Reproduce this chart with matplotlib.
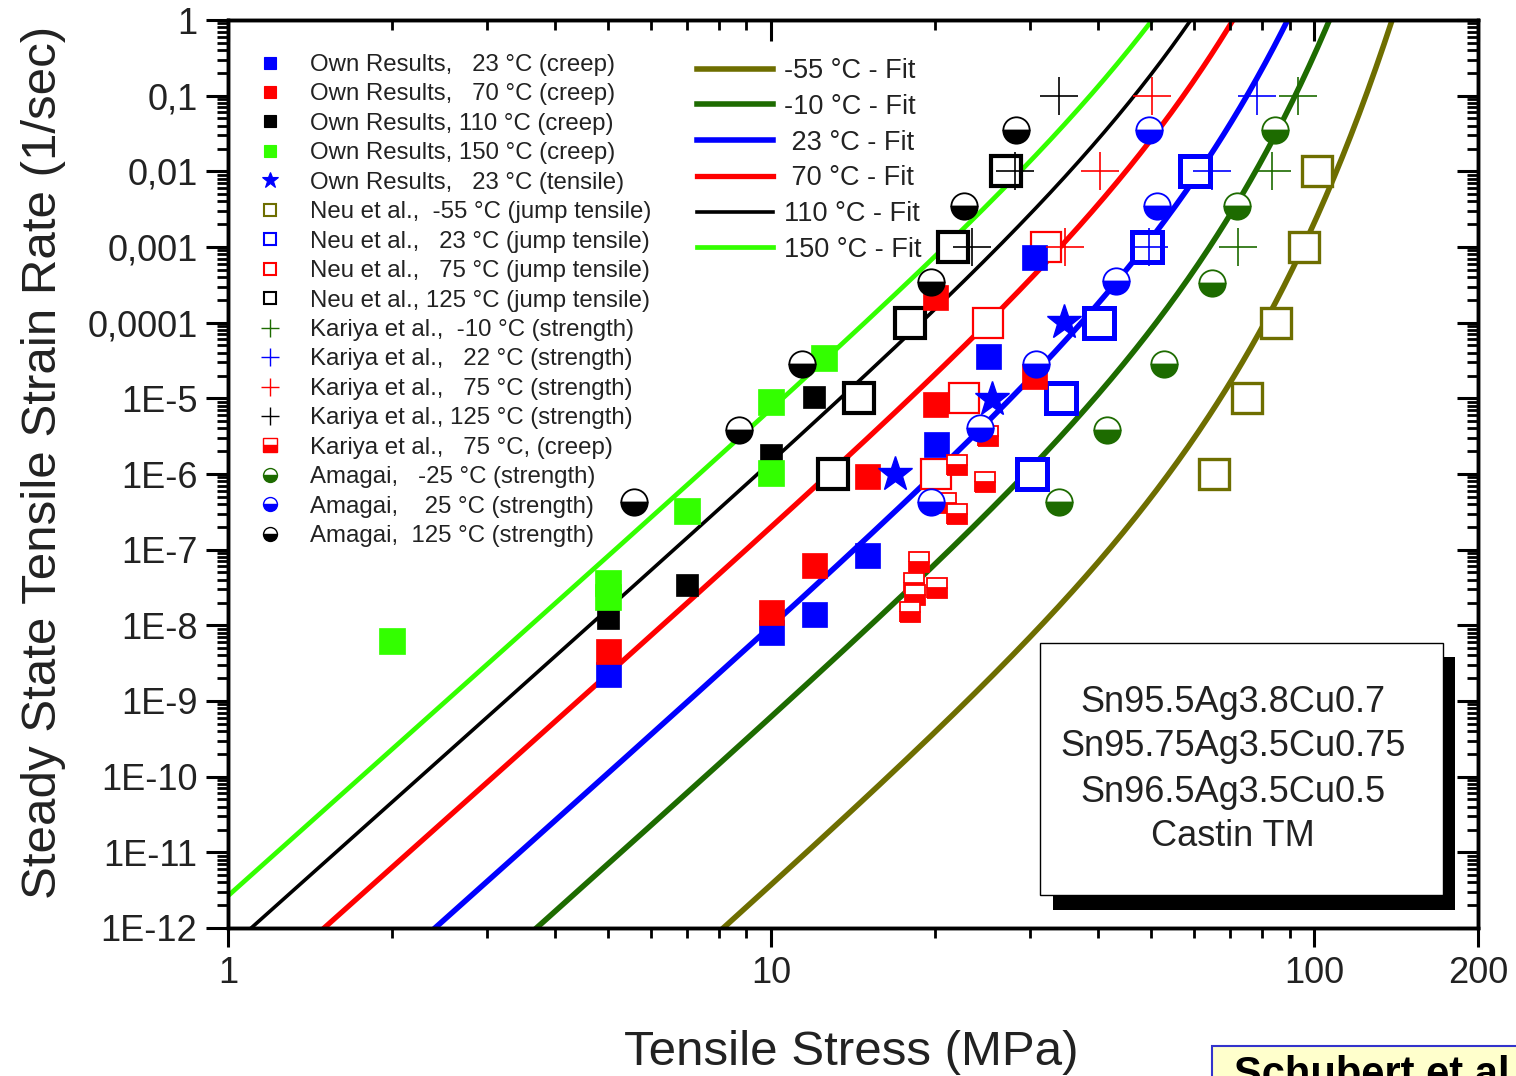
import numpy as np
import matplotlib
matplotlib.use("Agg")
import matplotlib.pyplot as plt
from matplotlib.lines import Line2D
from matplotlib.patches import Rectangle
from matplotlib.ticker import LogLocator, NullFormatter

plt.rcParams['font.family'] = ['Liberation Sans', 'DejaVu Sans']

# ---------------------------------------------------------------- data
# Own results (creep), stress in MPa, strain rate in 1/s
own23_s = [5, 10, 12, 15, 20.1, 25.1, 30.4]
own23_r = [2.3e-9, 8.2e-9, 1.4e-8, 8.5e-8, 2.5e-6, 3.6e-5, 7.4e-4]
own70_s = [5, 10, 12, 15, 20, 20, 30.4]
own70_r = [4.6e-9, 1.5e-8, 6.3e-8, 9.4e-7, 8.5e-6, 2.2e-4, 2.0e-5]
own110_s = [5, 7, 10, 12]
own110_r = [1.26e-8, 3.4e-8, 1.8e-6, 1.05e-5]
own150_s = [2, 5, 5, 7, 10, 10, 12.5]
own150_r = [6.2e-9, 2.4e-8, 3.6e-8, 3.2e-7, 1.03e-6, 9.0e-6, 3.4e-5]
# Own results (tensile)
own23t_s = [16.9, 25.5, 34.6]
own23t_r = [1.0e-6, 9.8e-6, 1.02e-4]

# Neu et al. (jump tensile)
neu_m55_s = [65.4, 75.2, 85.1, 95.5, 100.9]
neu_m55_r = [1e-6, 1e-5, 1e-4, 1e-3, 1e-2]
neu_23_s = [30.2, 34.1, 40.1, 49.2, 60.3]
neu_23_r = [1e-6, 1e-5, 1e-4, 1e-3, 1e-2]
neu_75_s = [20.1, 22.6, 25.1, 32.0]
neu_75_r = [1e-6, 1e-5, 1e-4, 1e-3]
neu_125_s = [13.0, 14.5, 18.0, 21.6, 27.1]
neu_125_r = [1e-6, 1e-5, 1e-4, 1e-3, 1e-2]

# Kariya et al. (strength)
kar_m10_s = [72.4, 83.6, 93.4]
kar_m10_r = [1e-3, 1e-2, 1e-1]
kar_22_s = [49.5, 64.9, 78.5]
kar_22_r = [1e-3, 1e-2, 1e-1]
kar_75_s = [34.7, 40.3, 50.2]
kar_75_r = [1e-3, 1e-2, 1e-1]
kar_125_s = [23.4, 28.1, 33.8]
kar_125_r = [1e-3, 1e-2, 1e-1]
# Kariya et al. (creep, 75 C)
kar75c_s = [25.1, 22.0, 24.7, 21.0, 22.0, 18.7, 18.3, 20.2, 18.4, 18.0]
kar75c_r = [3.2e-6, 1.3e-6, 7.9e-7, 4.2e-7, 3.0e-7, 6.9e-8, 3.6e-8, 3.1e-8, 2.5e-8, 1.5e-8]

# Amagai (strength)
ama_m25_s = [84.7, 72.1, 64.9, 52.9, 41.5, 33.8]
ama_m25_r = [3.5e-2, 3.5e-3, 3.3e-4, 2.8e-5, 3.8e-6, 4.3e-7]
ama_25_s = [49.6, 51.3, 43.1, 30.7, 24.2, 19.7]
ama_25_r = [3.5e-2, 3.5e-3, 3.5e-4, 2.8e-5, 4.0e-6, 4.3e-7]
ama_125_s = [28.2, 22.6, 19.7, 11.4, 8.73, 5.59]
ama_125_r = [3.5e-2, 3.5e-3, 3.4e-4, 2.8e-5, 3.8e-6, 4.3e-7]

# Garofalo (sinh) creep fit parameters
A_CREEP = 277984.0     # 1/s
ALPHA = 0.02447        # 1/MPa
N_EXP = 6.41
Q_ACT = 54200.0        # J/mol
R_GAS = 8.314          # J/(mol K)
fit_temps = [-55, -10, 23, 70, 110, 150]
fit_labels = ["-55 °C - Fit", "-10 °C - Fit", " 23 °C - Fit", " 70 °C - Fit",
              "110 °C - Fit", "150 °C - Fit"]

y_ticks = [1, 1e-1, 1e-2, 1e-3, 1e-4, 1e-5, 1e-6, 1e-7, 1e-8, 1e-9, 1e-10, 1e-11, 1e-12]
y_ticklabels = ["1", "0,1", "0,01", "0,001", "0,0001", "1E-5", "1E-6", "1E-7",
                "1E-8", "1E-9", "1E-10", "1E-11", "1E-12"]
x_ticks = [1, 10, 100, 200]
x_ticklabels = ["1", "10", "100", "200"]

alloy_lines = ["Sn95.5Ag3.8Cu0.7", "Sn95.75Ag3.5Cu0.75", "Sn96.5Ag3.5Cu0.5", "Castin TM"]

# ---------------------------------------------------------------- colours
OLIVE = '#6e6e00'
DKGREEN = '#1d6b00'
BLUE = '#0000ff'
RED = '#ff0000'
BLACK = '#000000'
LIME = '#33ff00'
fit_colors = [OLIVE, DKGREEN, BLUE, RED, BLACK, LIME]
fit_widths = [4.0, 4.0, 4.0, 3.8, 2.6, 3.4]
TXT = '#222222'

W, H = 1516, 1076
fig = plt.figure(figsize=(W / 100, H / 100), dpi=100)
ax = fig.add_axes([228 / W, 1 - 928 / H, 1250 / W, 908 / H])
ax.set_xscale('log')
ax.set_yscale('log')

# fit curves
sigma = np.logspace(0, np.log10(200), 600)
for t, c, lw in zip(fit_temps, fit_colors, fit_widths):
    rate = A_CREEP * np.sinh(ALPHA * sigma) ** N_EXP * np.exp(-Q_ACT / (R_GAS * (t + 273.15)))
    ax.plot(sigma, rate, color=c, lw=lw, zorder=2, solid_capstyle='butt')


def filled_sq(s, r, c, ms):
    ax.plot(s, r, ls='none', marker='s', ms=ms, mfc=c, mec=c, mew=0.5, zorder=4)


def open_sq(s, r, c, ms, mew):
    ax.plot(s, r, ls='none', marker='s', ms=ms, mfc='white', mec=c, mew=mew, zorder=3)


def plus(s, r, c):
    ax.plot(s, r, ls='none', marker='+', ms=27, mec=c, mew=1.2, zorder=5)


def half(s, r, c, marker, ms):
    ax.plot(s, r, ls='none', marker=marker, ms=ms, fillstyle='bottom',
            mfc=c, mfcalt='white', mec=c, mew=1.3, zorder=4)


open_sq(neu_m55_s, neu_m55_r, OLIVE, 22, 2.4)
open_sq(neu_23_s, neu_23_r, BLUE, 22, 3.6)
open_sq(neu_75_s, neu_75_r, RED, 22, 1.6)
open_sq(neu_125_s, neu_125_r, BLACK, 22, 3.0)

filled_sq(own23_s, own23_r, BLUE, 18)
filled_sq(own70_s, own70_r, RED, 18)
filled_sq(own110_s, own110_r, BLACK, 16)
filled_sq(own150_s, own150_r, LIME, 19)
ax.plot(own23t_s, own23t_r, ls='none', marker='*', ms=26, mfc=BLUE, mec=BLUE, zorder=4)

half(kar75c_s, kar75c_r, RED, 's', 15)
half(ama_m25_s, ama_m25_r, DKGREEN, 'o', 19)
half(ama_25_s, ama_25_r, BLUE, 'o', 19)
half(ama_125_s, ama_125_r, BLACK, 'o', 19)

plus(kar_m10_s, kar_m10_r, DKGREEN)
plus(kar_22_s, kar_22_r, BLUE)
plus(kar_75_s, kar_75_r, RED)
plus(kar_125_s, kar_125_r, BLACK)

# ---------------------------------------------------------------- axes
ax.set_xlim(1, 200)
ax.set_ylim(1e-12, 1)
for sp in ax.spines.values():
    sp.set_linewidth(2.4)

minor_sub = np.arange(2, 10)
ax.set_xticks(x_ticks)
ax.set_xticklabels(x_ticklabels)
ax.xaxis.set_minor_locator(LogLocator(base=10, subs=minor_sub, numticks=100))
ax.xaxis.set_minor_formatter(NullFormatter())
ax.set_yticks(y_ticks)
ax.set_yticklabels(y_ticklabels)
ax.yaxis.set_minor_locator(LogLocator(base=10, subs=minor_sub, numticks=100))
ax.yaxis.set_minor_formatter(NullFormatter())

ax.tick_params(axis='x', which='major', direction='out', length=14, width=2.2,
               labelsize=26, pad=6, labelcolor=TXT)
ax.tick_params(axis='x', which='minor', direction='out', length=7, width=2.0)
ax.tick_params(axis='y', which='major', direction='out', length=16, width=2.2,
               labelsize=26, pad=6, labelcolor=TXT)
ax.tick_params(axis='y', which='minor', direction='out', length=8, width=2.0)

# inward ticks on the top and right frame
axt = ax.twiny()
axt.set_xscale('log')
axt.set_xlim(ax.get_xlim())
axt.set_xticks(x_ticks)
axt.xaxis.set_minor_locator(LogLocator(base=10, subs=minor_sub, numticks=100))
axt.tick_params(axis='x', which='major', direction='in', length=15, width=2.2, labeltop=False)
axt.tick_params(axis='x', which='minor', direction='in', length=7, width=2.0)
axr = ax.twinx()
axr.set_yscale('log')
axr.set_ylim(ax.get_ylim())
axr.set_yticks(y_ticks)
axr.yaxis.set_minor_locator(LogLocator(base=10, subs=minor_sub, numticks=100))
axr.tick_params(axis='y', which='major', direction='in', length=15, width=2.2, labelright=False)
axr.tick_params(axis='y', which='minor', direction='in', length=8, width=2.0)
for a in (axt, axr):
    for sp in a.spines.values():
        sp.set_linewidth(2.4)

ax.set_xlabel("Tensile Stress (MPa)", fontsize=35.5, color=TXT)
ax.xaxis.set_label_coords(0.499, -0.112)
ax.set_ylabel("Steady State Tensile Strain Rate (1/sec)", fontsize=35.5, color=TXT)
ax.yaxis.set_label_coords(-0.130, 0.513)

# ---------------------------------------------------------------- legends
def mk(marker, c, ms, fill='full', mfc=None, mew=0.8):
    return Line2D([], [], ls='none', marker=marker, ms=ms, mec=c,
                  mfc=c if mfc is None else mfc, mew=mew, fillstyle=fill,
                  markerfacecoloralt='white')


leg_handles = [
    mk('s', BLUE, 9), mk('s', RED, 9), mk('s', BLACK, 9), mk('s', LIME, 9),
    mk('*', BLUE, 12),
    mk('s', OLIVE, 8, mfc='white', mew=1.5), mk('s', BLUE, 8, mfc='white', mew=1.5),
    mk('s', RED, 8, mfc='white', mew=1.5), mk('s', BLACK, 8, mfc='white', mew=1.5),
    mk('+', DKGREEN, 13, mew=1.0), mk('+', BLUE, 13, mew=1.0),
    mk('+', RED, 13, mew=1.0), mk('+', BLACK, 13, mew=1.0),
    mk('s', RED, 10, fill='bottom', mew=1.0),
    mk('o', DKGREEN, 10, fill='bottom', mew=1.0), mk('o', BLUE, 10, fill='bottom', mew=1.0),
    mk('o', BLACK, 10, fill='bottom', mew=1.0),
]
leg_labels = [
    "Own Results,   23 °C (creep)",
    "Own Results,   70 °C (creep)",
    "Own Results, 110 °C (creep)",
    "Own Results, 150 °C (creep)",
    "Own Results,   23 °C (tensile)",
    "Neu et al.,  -55 °C (jump tensile)",
    "Neu et al.,   23 °C (jump tensile)",
    "Neu et al.,   75 °C (jump tensile)",
    "Neu et al., 125 °C (jump tensile)",
    "Kariya et al.,  -10 °C (strength)",
    "Kariya et al.,   22 °C (strength)",
    "Kariya et al.,   75 °C (strength)",
    "Kariya et al., 125 °C (strength)",
    "Kariya et al.,   75 °C, (creep)",
    "Amagai,   -25 °C (strength)",
    "Amagai,    25 °C (strength)",
    "Amagai,  125 °C (strength)",
]
leg1 = ax.legend(leg_handles, leg_labels, loc='upper left',
                 bbox_to_anchor=((258 - 228) / 1250, (928 - 54) / 908),
                 frameon=False, fontsize=17.3, labelspacing=0.31, handlelength=1.0,
                 handletextpad=1.15, borderpad=0, borderaxespad=0, labelcolor=TXT)
ax.add_artist(leg1)

fit_handles = [Line2D([], [], color=c, lw=lw) for c, lw in zip(fit_colors, fit_widths)]
leg2 = ax.legend(fit_handles, fit_labels, loc='upper left',
                 bbox_to_anchor=((697 - 228) / 1250, (928 - 58) / 908),
                 frameon=False, fontsize=19.5, labelspacing=0.36, handlelength=2.8,
                 handletextpad=0.4, borderpad=0, borderaxespad=0, labelcolor=TXT)
leg1.set_zorder(6)
leg2.set_zorder(6)

# ---------------------------------------------------------------- alloy box
def axfrac(px, py):
    return (px - 228) / 1250, (928 - py) / 908


sx0, sy0 = axfrac(1053, 910)
sx1, sy1 = axfrac(1455, 657)
ax.add_patch(Rectangle((sx0, sy0), sx1 - sx0, sy1 - sy0, transform=ax.transAxes,
                       facecolor='black', edgecolor='none', zorder=7, clip_on=False))
bx0, by0 = axfrac(1040, 895)
bx1, by1 = axfrac(1443, 643)
ax.add_patch(Rectangle((bx0, by0), bx1 - bx0, by1 - by0, transform=ax.transAxes,
                       facecolor='white', edgecolor='black', lw=1.0, zorder=8, clip_on=False))
for i, line in enumerate(alloy_lines):
    tx, ty = axfrac(1233, 702 + 45 * i)
    ax.text(tx, ty, line, transform=ax.transAxes, ha='center', va='center',
            fontsize=26, color=TXT, zorder=9)

# reference note in the lower right corner
fig.add_artist(Rectangle((1212 / W, -0.05), 0.3, 0.05 + 30 / H, transform=fig.transFigure,
                         facecolor='#ffffcc', edgecolor='#3333cc', lw=1.5, clip_on=False))
fig.text(1234 / W, 1 - 1055 / H, "Schubert et al.", fontsize=30, fontweight='bold',
         color='black', ha='left', va='top')

fig.savefig("out.png", dpi=100)
